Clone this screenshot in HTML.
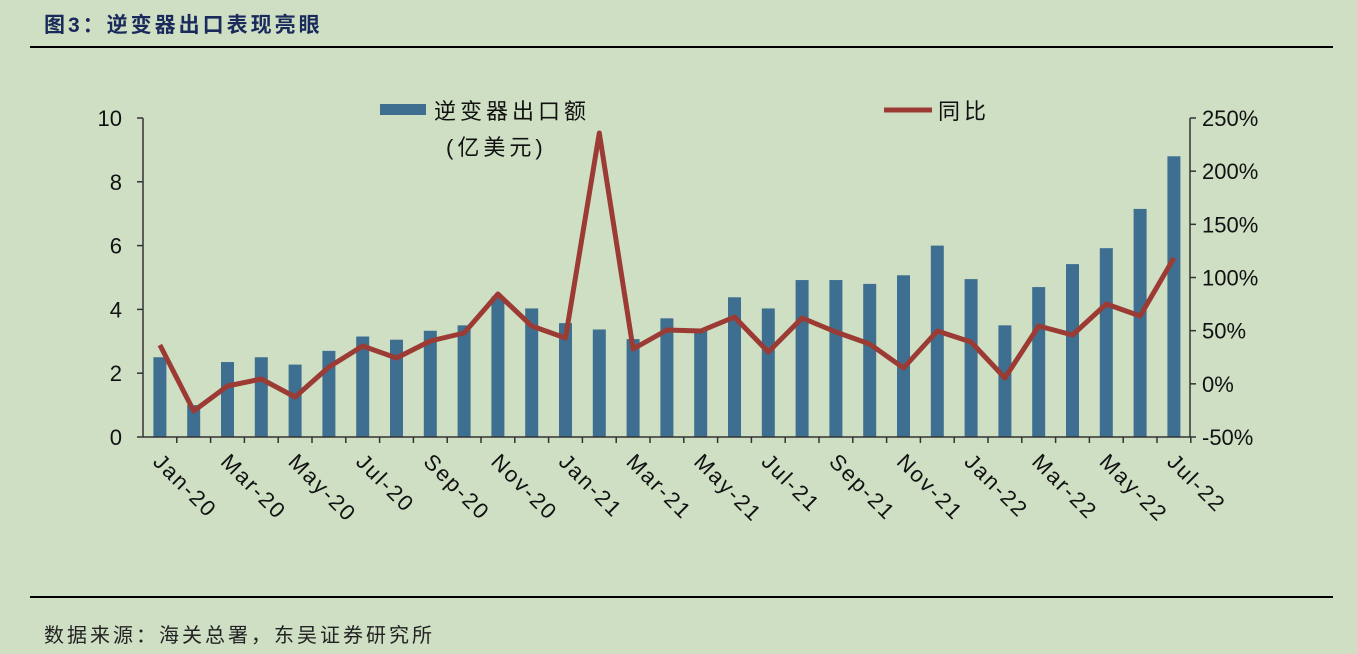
<!DOCTYPE html>
<html><head><meta charset="utf-8"><style>
body{margin:0;background:#cfdfc4;}
svg{display:block}
text{font-family:"Liberation Sans","Noto Sans CJK SC",sans-serif;}
</style></head><body>
<svg width="1357" height="654" xmlns="http://www.w3.org/2000/svg">
<rect width="1357" height="654" fill="#cfdfc4"/>
<text x="44" y="32" font-size="21" font-weight="bold" letter-spacing="3" fill="#1a2a5a" font-family="Liberation Serif,Noto Serif CJK SC,serif">图3：逆变器出口表现亮眼</text>
<line x1="30" y1="47" x2="1333" y2="47" stroke="#000" stroke-width="2"/>
<line x1="30" y1="597" x2="1333" y2="597" stroke="#000" stroke-width="2"/>
<text x="44" y="642" font-size="20" letter-spacing="3" fill="#222" font-family="Liberation Serif,Noto Serif CJK SC,serif">数据来源：海关总署，东吴证券研究所</text>
<g id="bars" fill="#3f6f90"></g>
<g stroke="#333" stroke-width="1.5">
<line x1="143" y1="118" x2="143" y2="437"/>
<line x1="1190" y1="118" x2="1190" y2="437"/>
<line x1="143" y1="437" x2="1190" y2="437"/>
</g>
<g id="ticks" stroke="#333" stroke-width="1.5"></g>
<polyline id="line" fill="none" stroke="#9b3b34" stroke-width="5" stroke-linejoin="round"/>
<g font-size="22" fill="#111" id="lab"></g>
<rect x="380" y="104" width="46" height="11" fill="#3f6f90"/>
<text x="434" y="119" font-size="22" letter-spacing="4" fill="#111">逆变器出口额</text>
<text x="446" y="155" font-size="22" letter-spacing="4" fill="#111">(亿美元)</text>
<line x1="884" y1="110" x2="932" y2="110" stroke="#9b3b34" stroke-width="5"/>
<text x="938" y="119" font-size="22" letter-spacing="4" fill="#111">同比</text>
</svg>
<script>
var ns="http://www.w3.org/2000/svg";
var bars=[2.5,1.0,2.35,2.5,2.27,2.7,3.15,3.05,3.33,3.5,4.4,4.03,3.57,3.37,3.07,3.72,3.4,4.38,4.03,4.92,4.92,4.8,5.07,6.0,4.95,3.5,4.7,5.42,5.92,7.15,8.8];
var ly=[345,411,386,379,397,367,346,358,341,333,294,326,338,133,349,330,331,317,352,318,332,344,368,331,342,378,326,335,304,316,258];
var mon=["Jan","Mar","May","Jul","Sep","Nov"];
var yrs=["20","21","22"];
function el(t,a,p,txt){var e=document.createElementNS(ns,t);for(var k in a)e.setAttribute(k,a[k]);if(txt!==undefined)e.textContent=txt;document.getElementById(p).appendChild(e);return e;}
var pts=[];
for(var i=0;i<31;i++){var cx=143+16.9+33.8*i;var h=bars[i]*31.9;
el("rect",{x:cx-6.5,y:437-h,width:13,height:h},"bars");
pts.push(cx+","+ly[i]);
el("line",{x1:143+33.8*(i+1),y1:437,x2:143+33.8*(i+1),y2:443},"ticks");
if(i%2==0){var m=mon[(i%12)/2],y=yrs[Math.floor(i/12)];
el("text",{x:0,y:0,transform:"translate("+(cx-8)+",463) rotate(45)","font-size":"22","letter-spacing":"2"},"lab",m+"-"+y);}
}
document.getElementById("line").setAttribute("points",pts.join(" "));
for(var v=0;v<=10;v+=2){var y=437-v*31.9;el("line",{x1:137,y1:y,x2:143,y2:y},"ticks");el("text",{x:122,y:y+8,"text-anchor":"end"},"lab",v);}
for(var p=-50;p<=250;p+=50){var y=437-(p+50)*1.0633;el("line",{x1:1190,y1:y,x2:1196,y2:y},"ticks");el("text",{x:1202,y:y+8},"lab",p+"%");}
</script>
</body></html>
